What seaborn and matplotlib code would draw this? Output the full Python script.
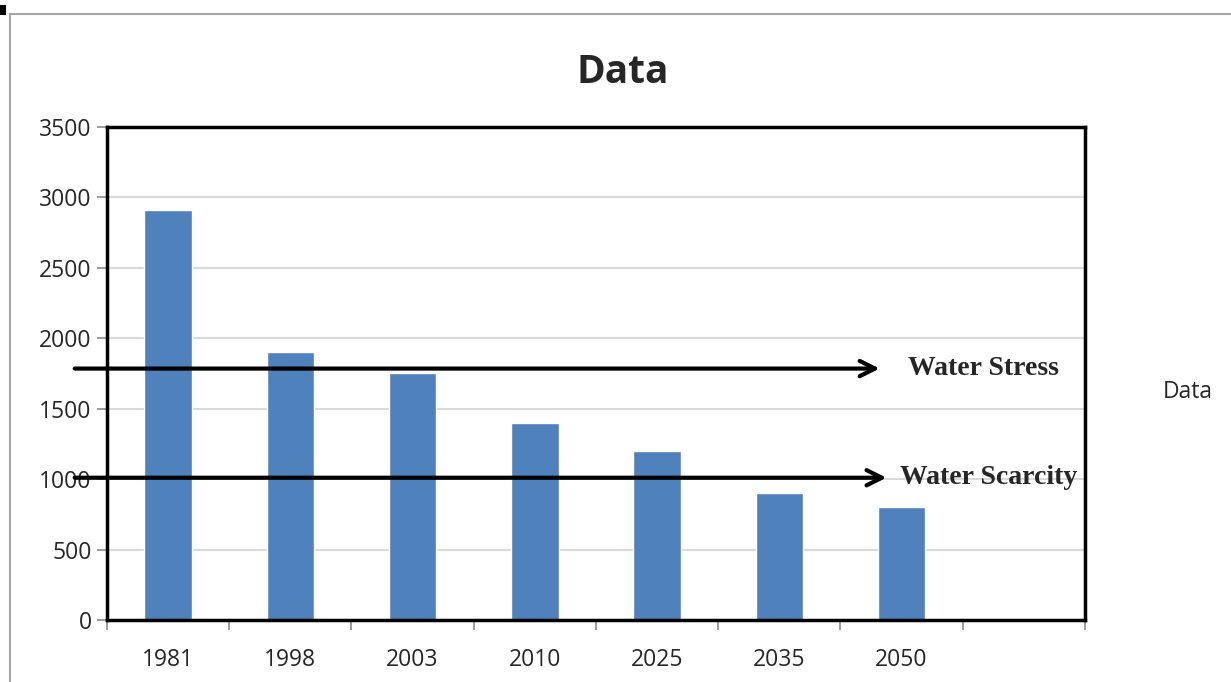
import matplotlib
matplotlib.use("Agg")
import matplotlib.pyplot as plt
import matplotlib.transforms as mtransforms
import seaborn as sns
from matplotlib.patches import Rectangle

# chart values
years = ["1981", "1998", "2003", "2010", "2025", "2035", "2050"]
values = [2910, 1900, 1750, 1400, 1200, 900, 800]
stress_level = 1785
scarcity_level = 1010
y_ticks = [0, 500, 1000, 1500, 2000, 2500, 3000, 3500]

sns.set_style("white")
plt.rcParams['font.family'] = ['Open Sans', 'DejaVu Sans']

fig = plt.figure(figsize=(12.31, 6.82), dpi=100)
ax = fig.add_axes([0.0869, 0.0909, 0.7945, 0.7229])

sns.barplot(x=years, y=values, color="#4F81BD", width=0.39, saturation=1, ax=ax, zorder=2)

ax.set_xlim(-0.5, 7.5)
ax.set_ylim(0, 3500)
ax.set_yticks(y_ticks)
ax.yaxis.grid(True, color="#d9d9d9", linewidth=1.5, zorder=0)
ax.set_axisbelow(True)

# category labels in the middle, tick marks on slot borders
ax.set_xticks(range(len(years)))
ax.set_xticklabels(years)
ax.set_xticks([i - 0.5 for i in range(9)], minor=True)
ax.tick_params(axis="x", which="both", bottom=True)
ax.tick_params(axis="x", which="major", length=0, pad=20, labelsize=16.5, labelcolor="#262626")
ax.tick_params(axis="x", which="minor", length=7, width=1.2, color="#8c8c8c", direction="out")
ax.tick_params(axis="y", left=True, length=7, width=1.2, color="#8c8c8c", direction="out", pad=4,
               labelsize=16.5, labelcolor="#262626")

for s in ax.spines.values():
    s.set_visible(True)
    s.set_color("black")
    s.set_linewidth(2.5)

ax.set_title("Data", fontsize=28, fontweight="bold", pad=32, x=0.527)

# threshold arrows
blend = mtransforms.blended_transform_factory(ax.transAxes, ax.transData)
for lvl, x_end, label, x_txt in [(stress_level, 0.790, "Water Stress", 0.819),
                                  (scarcity_level, 0.797, "Water Scarcity", 0.811)]:
    ax.annotate("", xy=(x_end, lvl), xytext=(-0.033, lvl),
                xycoords=("axes fraction", "data"), textcoords=("axes fraction", "data"),
                arrowprops=dict(arrowstyle="->,head_length=1.1,head_width=0.55",
                                lw=3, color="black", shrinkA=0, shrinkB=0),
                annotation_clip=False, zorder=5)
    ax.text(x_txt, lvl, label, transform=blend,
            fontsize=20, fontweight="bold", family="Liberation Serif", va="center", ha="left",
            zorder=6)

ax.set_xlabel("")
ax.set_ylabel("")

# legend text on the right
fig.text(0.9449, 0.4245, "Data", fontsize=16.5, color="#262626", ha="left", va="center")

# outer chart frame and the small mark in the corner
fig.patches.append(Rectangle((0.0081, -0.05), 1.1, 1.0295, transform=fig.transFigure,
                             fill=False, edgecolor="#a6a6a6", linewidth=1.5))
fig.patches.append(Rectangle((0.0, 0.978), 0.005, 0.015, transform=fig.transFigure,
                             facecolor="black", edgecolor="none"))

fig.savefig("out.png", dpi=100)
